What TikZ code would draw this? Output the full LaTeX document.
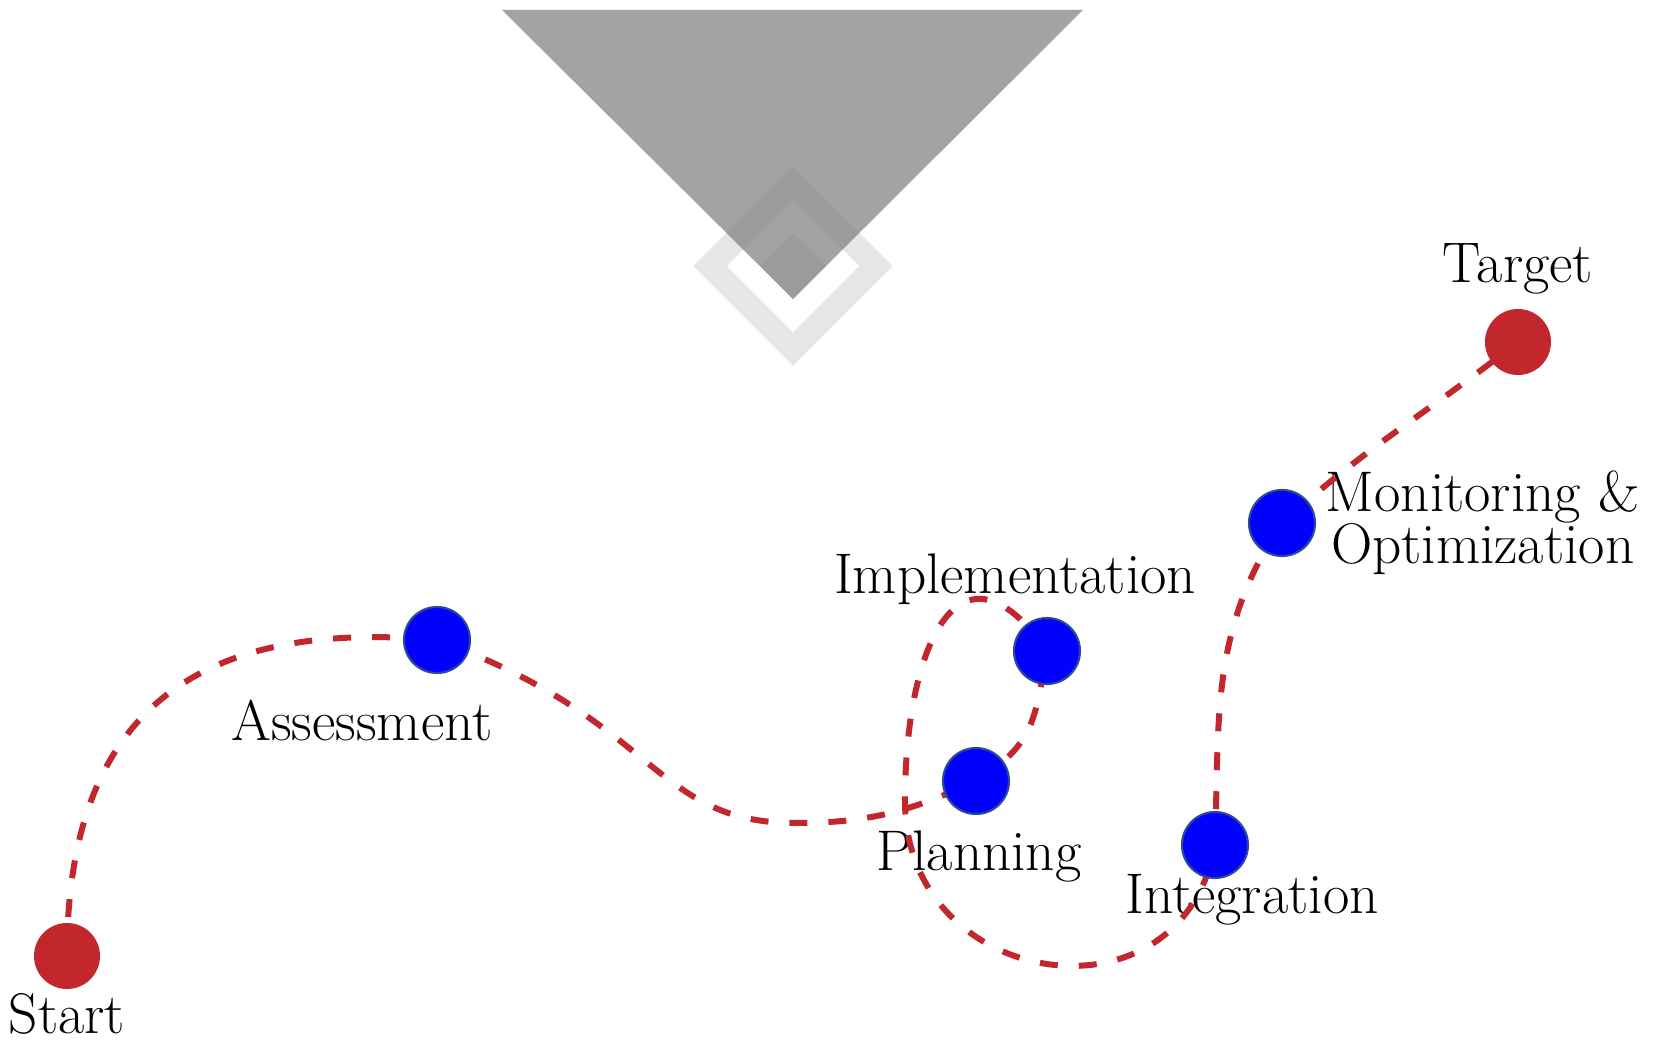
\documentclass[tikz,border=0pt]{standalone}
\usepackage{tikz}
\usetikzlibrary{positioning, backgrounds}

\definecolor{routered}{RGB}{193,39,45}
\definecolor{phaseblue}{RGB}{0,0,255}
\definecolor{phaseedge}{RGB}{44,72,150}
\definecolor{markgray}{RGB}{163,163,163}

\begin{document}
\begin{tikzpicture}[
  endpoint/.style={circle, fill=routered, inner sep=0pt, minimum size=0.66cm},
  phase/.style={circle, fill=phaseblue, draw=phaseedge, line width=0.6pt, inner sep=0pt, minimum size=0.66cm},
  tag/.style={inner sep=0pt, font=\fontsize{16.3pt}{14.8pt}\selectfont},
  route/.style={draw=routered, line width=0.06cm, dash pattern=on 0.18cm off 0.21cm}
]
\useasboundingbox (0,0) rectangle (16.67,10.41);
% the grey marker on top: a triangle with a hollow diamond over its tip
\fill[markgray] (5.02,10.31) -- (10.83,10.31) -- (7.93,7.42) -- cycle;
\draw[gray, opacity=0.2, line width=0.235cm] (7.93,8.58) -- (8.76,7.75) -- (7.93,6.92) -- (7.10,7.75) -- cycle;
\fill[gray, opacity=0.2] (7.93,8.08) -- (8.26,7.75) -- (7.93,7.42) -- (7.60,7.75) -- cycle;
% the stops: red ends, blue phases
\node[endpoint] (start) at (0.67,0.85) {};
\node[endpoint] (target) at (15.18,6.99) {};
\foreach \nm/\x/\y in {assess/4.37/4.01, plan/9.76/2.60, impl/10.47/3.90, integ/12.15/1.96, monit/12.82/5.18}
  \node[phase] (\nm) at (\x,\y) {};
% the low point after the assessment and the left turn of the loop
\coordinate (dip) at (7.95,2.18);
\coordinate (loopleft) at (9.05,2.4);
%
\begin{scope}[on background layer]
% the names of the stops
\node[tag, below=0.03cm of start] (startname) {Start};
\node[tag, below=0.25cm of assess, xshift=-0.75cm] (assessname) {Assessment};
\node[tag, below=0.15cm of plan, xshift=0.03cm] (planname) {Planning};
\node[tag, above=0.12cm of impl, xshift=-0.32cm] (implname) {Implementation};
\node[tag, below=-0.05cm of integ, xshift=0.37cm] (integname) {Integration};
\node[tag, align=center, right=0.09cm of monit] (monitname) {Monitoring \&\\Optimization};
\node[tag, above=0.13cm of target] (targetname) {Target};
% the dashed route through all stops
\draw[route] (start.center) to[out=90,in=175,out looseness=1.36,in looseness=1.18] (assess.center)
  to[out=-20,in=180,out looseness=1.5,in looseness=0.9] (dip)
  to[out=0,in=205] (plan.center)
  to[out=32,in=-100,looseness=1.2] (impl.center)
  to[out=125,in=90,looseness=1.9] (loopleft)
  to[out=-90,in=-100,looseness=1.55] (integ.center)
  to[out=88,in=236] (monit.center)
  to[out=42,in=218] (target.center);
\end{scope}
%
\end{tikzpicture}
\end{document}
